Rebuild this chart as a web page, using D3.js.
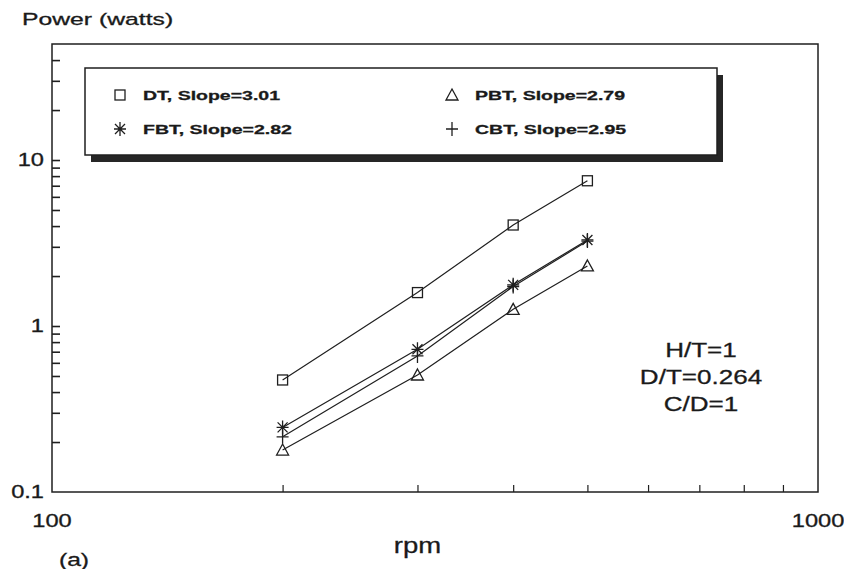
<!DOCTYPE html>
<html>
<head>
<meta charset="utf-8">
<script src="https://cdn.jsdelivr.net/npm/d3@7/dist/d3.min.js"></script>
<style>
  html, body { margin: 0; padding: 0; background: #fff; }
  svg { display: block; }
  text { font-family: "Liberation Sans", Arial, sans-serif; fill: #1a1a1a;
         stroke: #1a1a1a; stroke-width: 0.3; }
</style>
</head>
<body>
<svg id="chart" width="844" height="569"></svg>
<script>
// Impeller speed (rpm) and measured power draw (W) for each impeller type
const rpm = [200, 300, 400, 500];
const dtPower  = [0.473, 1.59, 4.06, 7.50];
const fbtPower = [0.245, 0.724, 1.77, 3.30];
const cbtPower = [0.215, 0.660, 1.73, 3.25];
const pbtPower = [0.179, 0.507, 1.26, 2.30];

const seriesNames  = ["DT", "FBT", "PBT", "CBT"];
const seriesSlopes = ["3.01", "2.82", "2.79", "2.95"];
const seriesMarks  = ["square", "asterisk", "triangle", "plus"];

const xTickValues = [200, 300, 400, 500, 600, 700, 800, 900];
const xTickLabels = [100, 1000];
const yTickValues = [0.2, 0.3, 0.4, 0.5, 0.6, 0.7, 0.8, 0.9, 1,
                     2, 3, 4, 5, 6, 7, 8, 9, 10, 20, 30, 40];
const yTickLabels = [0.1, 1, 10];
const annotation  = ["H/T=1", "D/T=0.264", "C/D=1"];

const svg = d3.select("#chart");
const ink = "#1f1f1f";

const plot = { left: 52, right: 818, top: 44, bottom: 492 };
const x = d3.scaleLog().domain([100, 1000]).range([plot.left, plot.right]);
const y = d3.scaleLog().domain([0.1, 50]).range([plot.bottom, plot.top]);

// text drawn with a horizontal stretch around its anchor point
function wideText(g, str, px, py, opts) {
  return g.append("text")
    .attr("transform", `translate(${px},${py}) scale(${opts.sx},1)`)
    .attr("text-anchor", opts.anchor || "start")
    .attr("font-size", opts.size)
    .attr("font-weight", opts.weight || "normal")
    .text(str);
}

// frame
svg.append("rect")
  .attr("x", plot.left).attr("y", plot.top)
  .attr("width", plot.right - plot.left).attr("height", plot.bottom - plot.top)
  .attr("fill", "none").attr("stroke", ink).attr("stroke-width", 1.5);

// y axis: inward ticks, labels only at decades
const yAxis = svg.append("g")
  .attr("transform", `translate(${plot.left},0)`)
  .call(d3.axisLeft(y).tickValues(yTickValues).tickSize(-8).tickFormat(""));
yAxis.select(".domain").remove();
yAxis.selectAll("line").attr("stroke", ink).attr("stroke-width", 1.6);

// x axis: inward ticks
const xAxis = svg.append("g")
  .attr("transform", `translate(0,${plot.bottom})`)
  .call(d3.axisBottom(x).tickValues(xTickValues).tickSize(-7).tickFormat(""));
xAxis.select(".domain").remove();
xAxis.selectAll("line").attr("stroke", ink).attr("stroke-width", 1.2);

const labels = svg.append("g");
yTickLabels.forEach(v => {
  wideText(labels, String(v), 44, y(v) + 6, { size: 17.5, sx: 1.35, anchor: "end" });
});
xTickLabels.forEach(v => {
  wideText(labels, String(v), x(v), 527, { size: 17.5, sx: 1.35, anchor: "middle" });
});

wideText(svg, "Power (watts)", 22, 25, { size: 16.5, sx: 1.5 });
wideText(svg, "rpm", x(300), 553, { size: 22, sx: 1.25, anchor: "middle" });
wideText(svg, "(a)", 74, 566, { size: 19, sx: 1.3, anchor: "middle" });

// condition annotation
annotation.forEach((s, i) => {
  wideText(svg, s, 701, 357 + i * 27, { size: 20.5, sx: 1.27, anchor: "middle" });
});

// marker shapes
function drawMarker(g, type, cx, cy) {
  const m = g.append("g").attr("transform", `translate(${cx},${cy})`)
    .attr("fill", "none").attr("stroke", ink).attr("stroke-width", 1.3);
  if (type === "square") {
    m.append("rect").attr("x", -5).attr("y", -5).attr("width", 10).attr("height", 10);
  } else if (type === "triangle") {
    m.append("path").attr("d", "M0,-6 L6,5 L-6,5 Z");
  } else if (type === "plus") {
    m.append("path").attr("d", "M-6,0 H6 M0,-7 V7");
  } else if (type === "asterisk") {
    m.append("path").attr("d", "M-6,0 H6 M0,-7 V7 M-5,-5 L5,5 M-5,5 L5,-5");
  }
}

// data series
const seriesValues = [dtPower, fbtPower, pbtPower, cbtPower];
const line = d3.line().x(d => x(d[0])).y(d => y(d[1]));
const dataG = svg.append("g");
seriesValues.forEach((vals, i) => {
  const pts = rpm.map((r, j) => [r, vals[j]]);
  dataG.append("path").datum(pts).attr("d", line)
    .attr("fill", "none").attr("stroke", ink).attr("stroke-width", 1.2);
  pts.forEach(p => drawMarker(dataG, seriesMarks[i], x(p[0]), y(p[1])));
});

// legend with drop shadow
const lg = svg.append("g");
const box = { x: 85, y: 68, w: 632, h: 87 };
lg.append("rect").attr("x", box.x + 6).attr("y", box.y + 7)
  .attr("width", box.w).attr("height", box.h).attr("fill", "#262626");
lg.append("rect").attr("x", box.x).attr("y", box.y)
  .attr("width", box.w).attr("height", box.h)
  .attr("fill", "#fff").attr("stroke", ink).attr("stroke-width", 1.5);
seriesNames.forEach((name, i) => {
  const col = Math.floor(i / 2), row = i % 2;
  const mx = col === 0 ? 120 : 452;
  const my = row === 0 ? 95 : 129;
  drawMarker(lg, seriesMarks[i], mx, my);
  wideText(lg, `${name}, Slope=${seriesSlopes[i]}`, mx + 23, my + 5,
    { size: 13, sx: 1.5, weight: "bold" });
});
</script>
</body>
</html>
